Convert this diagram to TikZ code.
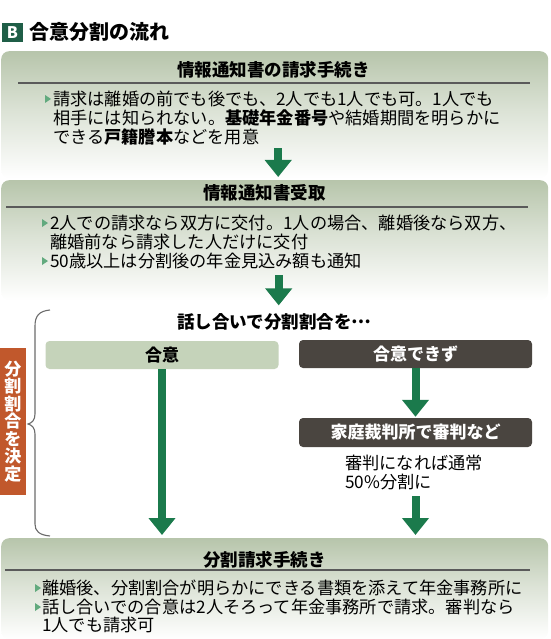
\documentclass[tikz,border=0pt]{standalone}
\usepackage{fontspec}
\setmainfont{Noto Sans CJK JP}
\usetikzlibrary{arrows.meta,calc}
\definecolor{sage}{HTML}{B7C5AB}
\definecolor{agreec}{HTML}{C5D3BA}
\definecolor{darkc}{HTML}{4A4540}
\definecolor{orng}{HTML}{C1582C}
\definecolor{grn}{HTML}{1B7A4C}
\definecolor{bgrn}{HTML}{1F5E47}
\definecolor{rulec}{HTML}{5A5A5A}
\definecolor{tri}{HTML}{62AA7E}
\definecolor{bracec}{HTML}{6B6B6B}
\pgfdeclareverticalshading{boxshade}{100bp}{color(0bp)=(white); color(25bp)=(white); color(52bp)=(sage!50); color(75bp)=(sage); color(100bp)=(sage)}
\newcommand\mybullet[2]{\fill[tri] (#1,#2-4) -- (#1+6,#2) -- (#1,#2+4) -- cycle;}
\begin{document}
\begin{tikzpicture}[x=1pt,y=-1pt,
  panel/.style={shade, shading=boxshade, rounded corners=8pt, minimum width=547pt, inner sep=0pt, anchor=north west},
  txt/.style={inner sep=0pt, anchor=base west, font=\fontsize{17.2}{19}\selectfont},
  ttl/.style={inner sep=0pt, anchor=base west, font=\fontsize{17.5}{19}\selectfont\bfseries},
  hrule/.style={draw=rulec, line width=1.2pt},
  bigarrow/.style={draw=grn, line width=8pt, -{Triangle[width=26pt,length=17pt]}},
  choice/.style={rounded corners=4pt, minimum width=233pt, minimum height=28pt, inner sep=0pt, font=\fontsize{17}{19}\selectfont\bfseries}
]
\useasboundingbox (0,0) rectangle (550,639);

% title
\node[fill=bgrn, text=white, font=\fontsize{16}{16}\selectfont\bfseries, minimum width=21pt, minimum height=19pt, inner sep=0pt] (bx) at (12.5,32.5) {B};
\node[inner sep=0pt, anchor=base west, font=\fontsize{20}{22}\selectfont\bfseries] (title) at (29,39.6) {合意分割の流れ};

% panel 1
\node[panel, minimum height=127pt] (p1) at (1,51) {};
\node[ttl] (t1) at (177,76.5) {情報通知書の請求手続き};
\draw[hrule] (18,83) -- (530,83);
\mybullet{45}{99}
\node[txt] (l11) at (53,105.5) {請求は離婚の前でも後でも、2人でも1人でも可。1人でも};
\node[txt] (l12) at (53,124.5) {相手には知られない。\textbf{基礎年金番号}や結婚期間を明らかに};
\node[txt] (l13) at (53,143.5) {できる\textbf{戸籍謄本}などを用意};

% panel 2
\node[panel, minimum height=120pt] (p2) at (1,180) {};
\node[ttl] (t2) at (203,199.5) {情報通知書受取};
\draw[hrule] (6,207) -- (528,207);
\mybullet{42}{223}
\node[txt] (l21) at (50,229.5) {2人での請求なら双方に交付。1人の場合、離婚後なら双方、};
\node[txt] (l22) at (50,248.5) {離婚前なら請求した人だけに交付};
\mybullet{42}{261}
\node[txt] (l23) at (50,267.5) {50歳以上は分割後の年金見込み額も通知};

\draw[bigarrow] ([xshift=3.5pt,yshift=30pt]p1.south) -- ([xshift=3.5pt,yshift=3pt]p2.north);

% discussion
\node[ttl] (q) at (177,328.5) {話し合いで分割割合を\raisebox{0.3em}{…}};
\draw[bigarrow] ([xshift=4pt,yshift=25pt]p2.south) -- ([xshift=4pt,yshift=-5pt]p2.south);

% brace and vertical label
\draw[bracec, line width=1.1pt] (50,310) .. controls (39,311) and (35,316) .. (35,326) -- (35,414)
  .. controls (35,420) and (32,423) .. (28,424) .. controls (32,425) and (35,428) .. (35,434)
  -- (35,524) .. controls (35,531) and (39,535) .. (50,536);
\node[fill=orng, text=white, minimum width=26pt, minimum height=147pt, inner sep=0pt, align=center,
  font=\fontsize{17}{17.5}\selectfont\bfseries] (vt) at (13,421.5) {分\\割\\割\\合\\を\\決\\定};

% choices
\node[choice, fill=agreec] (ag) at (162,355) {合意};
\node[choice, fill=darkc, text=white] (ng) at (415.5,354) {合意できず};
\node[choice, fill=darkc, text=white, minimum height=29pt] (court) at (415.5,432.5) {家庭裁判所で審判など};
\node[txt] (n1) at (345,469.5) {審判になれば通常};
\node[txt] (n2) at (345,488.5) {50\%分割に};

% panel 3
\node[panel, minimum height=101pt] (p3) at (1,538) {};
\node[ttl] (t3) at (203,566.5) {分割請求手続き};
\draw[hrule] (5,570) -- (530,570);
\mybullet{35}{588}
\node[txt] (l31) at (42,594.5) {離婚後、分割割合が明らかにできる書類を添えて年金事務所に};
\mybullet{35}{607}
\node[txt] (l32) at (42,613.5) {話し合いでの合意は2人そろって年金事務所で請求。審判なら};
\node[txt] (l33) at (42,631.5) {1人でも請求可};

% arrows
\draw[bigarrow] (ag.south) -- ($(ag.south |- p3.north)+(0,-3)$);
\draw[bigarrow, shorten >=1pt] (ng.south) -- (court.north);
\draw[bigarrow] ($(ng.south |- n2.south)+(0,6)$) -- ($(ng.south |- p3.north)+(0,-3)$);
\end{tikzpicture}
\end{document}
